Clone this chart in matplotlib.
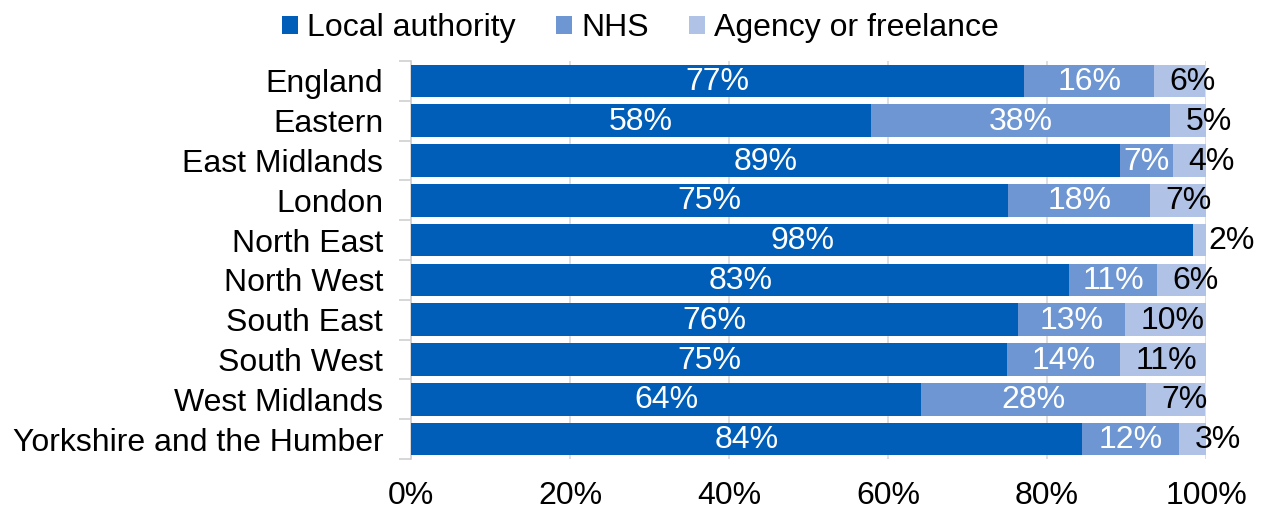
import matplotlib
matplotlib.use("Agg")
import matplotlib.pyplot as plt
from matplotlib.patches import Patch
import numpy as np

plt.rcParams['font.family'] = ['Liberation Sans', 'DejaVu Sans']

regions = ["England", "Eastern", "East Midlands", "London", "North East",
           "North West", "South East", "South West", "West Midlands",
           "Yorkshire and the Humber"]
local_authority = [77.1, 57.9, 89.2, 75.1, 98.4, 82.8, 76.4, 75.0, 64.2, 84.4]
nhs = [16.4, 37.6, 6.6, 17.9, 0.0, 11.0, 13.4, 14.2, 28.3, 12.2]
agency = [6.4, 4.6, 4.3, 7.0, 1.6, 6.2, 10.2, 10.8, 7.4, 3.4]
series_names = ["Local authority", "NHS", "Agency or freelance"]
colors = ["#005EB8", "#6E96D2", "#B0C2E6"]
xticks = [0, 20, 40, 60, 80, 100]

fig = plt.figure(figsize=(12.63, 5.11), dpi=100)
ax = fig.add_axes([0.3254, 0.1018, 0.6295, 0.7788])

y = np.arange(len(regions))
h = 0.82
la = np.array(local_authority)
nh = np.array(nhs)
ag = np.array(agency)

ax.barh(y, la, height=h, color=colors[0], zorder=3)
ax.barh(y, nh, left=la, height=h, color=colors[1], zorder=3)
ax.barh(y, ag, left=la + nh, height=h, color=colors[2], zorder=3)

fs = 23
for i in range(len(regions)):
    ax.text(la[i] / 2, y[i] + 0.03, f"{round(la[i])}%", ha="center", va="center",
            color="white", fontsize=fs, zorder=4)
    if nh[i] > 0:
        ax.text(la[i] + nh[i] / 2, y[i] + 0.03, f"{round(nh[i])}%", ha="center",
                va="center", color="white", fontsize=fs, zorder=4)
    ax.annotate(f"{round(ag[i])}%", xy=(la[i] + nh[i], y[i] + 0.03),
                xytext=(11, 0), textcoords="offset points",
                ha="left", va="center", color="black", fontsize=fs,
                zorder=4, annotation_clip=False)

ax.set_xlim(0, 100)
ax.set_ylim(len(regions) - 0.5, -0.5)
ax.set_yticks(y)
ax.set_yticklabels(regions, fontsize=fs)
ax.set_xticks(xticks)
ax.set_xticklabels([f"{t}%" for t in xticks], fontsize=fs)
ax.tick_params(axis="x", length=0, pad=16)
ax.tick_params(axis="y", which="major", length=0, pad=20)
ax.set_yticks(np.arange(-0.5, len(regions), 1), minor=True)
ax.tick_params(axis="y", which="minor", length=9, color="#D0D0D0", width=1.2)

ax.grid(axis="x", color="#D9D9D9", linewidth=1.2, zorder=0)
for s in ["top", "right", "bottom"]:
    ax.spines[s].set_visible(False)
ax.spines["left"].set_color("#D0D0D0")
ax.spines["left"].set_linewidth(1.2)

handles = [Patch(facecolor=c, edgecolor="none") for c in colors]
fig.legend(handles, series_names, loc="upper center", ncol=3,
           bbox_to_anchor=(0.507, 1.03), frameon=False, fontsize=fs,
           handlelength=0.5, handleheight=0.5, handletextpad=0.3,
           columnspacing=1.25)

fig.savefig("out.png", dpi=100)
